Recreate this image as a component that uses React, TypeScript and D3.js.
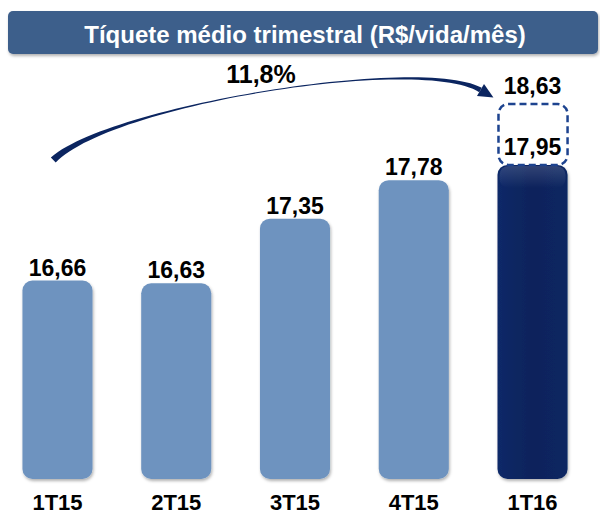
import React, { useRef, useEffect } from 'react';
import * as d3 from 'd3';

const quarters = ['1T15', '2T15', '3T15', '4T15', '1T16'];
const ticket = [16.66, 16.63, 17.35, 17.78, 17.95];
const ticketAdjusted = 18.63; // dashed extension on the last bar
const growthLabel = '11,8%';
const title = 'Tíquete médio trimestral (R$/vida/mês)';

const fmt = (v: number) => v.toFixed(2).replace('.', ',');

const App = () => {
  const ref = useRef<SVGSVGElement>(null);

  useEffect(() => {
    const width = 600;
    const height = 515;
    const font = '"Liberation Sans", Arial, sans-serif';

    const svg = d3.select(ref.current);
    svg.selectAll('*').remove();
    svg.attr('width', width).attr('height', height);

    const defs = svg.append('defs');

    // soft shadow under bars and banner
    const shadow = defs.append('filter').attr('id', 'shadow')
      .attr('x', '-20%').attr('y', '-20%').attr('width', '140%').attr('height', '140%');
    shadow.append('feDropShadow')
      .attr('dx', 1).attr('dy', 2).attr('stdDeviation', 1.5)
      .attr('flood-color', '#000').attr('flood-opacity', 0.3);

    // dark bar gradient
    const darkGrad = defs.append('linearGradient').attr('id', 'darkGrad')
      .attr('x1', 0).attr('x2', 1).attr('y1', 0).attr('y2', 0);
    darkGrad.append('stop').attr('offset', '0%').attr('stop-color', '#0d2968');
    darkGrad.append('stop').attr('offset', '50%').attr('stop-color', '#09235b');
    darkGrad.append('stop').attr('offset', '100%').attr('stop-color', '#0b2662');
    const topGlow = defs.append('linearGradient').attr('id', 'topGlow')
      .attr('x1', 0).attr('x2', 0).attr('y1', 0).attr('y2', 1);
    topGlow.append('stop').attr('offset', '0%').attr('stop-color', '#fff').attr('stop-opacity', 0.15);
    topGlow.append('stop').attr('offset', '100%').attr('stop-color', '#fff').attr('stop-opacity', 0);

    //scales
    const x = d3.scaleBand()
      .domain(quarters)
      .range([-1.9, 591.9])
      .paddingInner(0.41)
      .paddingOuter(0.205);

    const y = d3.scaleLinear()
      .domain([14.445, ticketAdjusted])
      .range([479, 104]);

    //title banner
    svg.append('rect')
      .attr('x', 8).attr('y', 11)
      .attr('width', 590).attr('height', 43)
      .attr('rx', 5)
      .attr('fill', '#3e5f8b')
      .attr('filter', 'url(#shadow)');
    svg.append('text')
      .attr('x', 305).attr('y', 43)
      .attr('text-anchor', 'middle')
      .style('font-family', font)
      .style('font-size', '24px')
      .style('font-weight', 'bold')
      .style('fill', '#fff')
      .text(title);

    const last = quarters.length - 1;
    const bw = x.bandwidth();

    //bars
    svg.selectAll('rect.bar')
      .data(ticket)
      .join('rect')
      .attr('class', 'bar')
      .attr('x', (d, i) => x(quarters[i])!)
      .attr('y', d => y(d))
      .attr('width', bw)
      .attr('height', d => y.range()[0] - y(d))
      .attr('rx', 10)
      .attr('fill', (d, i) => (i === last ? 'url(#darkGrad)' : '#6e93bf'))
      .attr('filter', 'url(#shadow)');

    // glossy top of the highlighted bar
    svg.append('rect')
      .attr('x', x(quarters[last])! + 2)
      .attr('y', y(ticket[last]) + 1)
      .attr('width', bw - 4)
      .attr('height', 22)
      .attr('rx', 9)
      .attr('fill', 'url(#topGlow)');

    // dashed box for the adjusted value
    svg.append('rect')
      .attr('x', x(quarters[last])! + 1)
      .attr('y', y(ticketAdjusted))
      .attr('width', bw - 1)
      .attr('height', y(ticket[last]) - y(ticketAdjusted))
      .attr('rx', 10)
      .attr('fill', 'none')
      .attr('stroke', '#1d438f')
      .attr('stroke-width', 2.5)
      .attr('stroke-dasharray', '7,4');

    //value labels
    svg.selectAll('text.value')
      .data(ticket)
      .join('text')
      .attr('class', 'value')
      .attr('x', (d, i) => x(quarters[i])! + bw / 2)
      .attr('y', (d, i) => (i === last ? y(d) - 10 : y(d) - 5))
      .attr('text-anchor', 'middle')
      .style('font-family', font)
      .style('font-size', '23px')
      .style('font-weight', 'bold')
      .style('fill', '#000')
      .text(d => fmt(d));

    svg.append('text')
      .attr('x', x(quarters[last])! + bw / 2)
      .attr('y', y(ticketAdjusted) - 10)
      .attr('text-anchor', 'middle')
      .style('font-family', font)
      .style('font-size', '23px')
      .style('font-weight', 'bold')
      .text(fmt(ticketAdjusted));

    //category labels
    svg.selectAll('text.cat')
      .data(quarters)
      .join('text')
      .attr('class', 'cat')
      .attr('x', d => x(d)! + bw / 2)
      .attr('y', 510)
      .attr('text-anchor', 'middle')
      .style('font-family', font)
      .style('font-size', '22px')
      .style('font-weight', 'bold')
      .text(d => d);

    //growth arrow: tapered cubic curve from first bar to last bar
    const p0 = [x(quarters[0])! + bw * 0.44, y(ticketAdjusted) + 56];
    const p3 = [x(quarters[last])! - 17, y(ticketAdjusted) - 14];
    const p1 = [p0[0] + 57, p0[1] - 55];
    const p2 = [p3[0] - 60, p3[1] - 35];
    const bez = (t: number, k: number) =>
      (1 - t) ** 3 * p0[k] + 3 * (1 - t) ** 2 * t * p1[k] + 3 * (1 - t) * t * t * p2[k] + t ** 3 * p3[k];
    const dBez = (t: number, k: number) =>
      3 * (1 - t) ** 2 * (p1[k] - p0[k]) + 6 * (1 - t) * t * (p2[k] - p1[k]) + 3 * t * t * (p3[k] - p2[k]);
    const widthAt = (t: number) =>
      t < 0.5 ? 1 + 6 * (1 - t / 0.5) ** 2 : 1 + 4 * ((t - 0.5) / 0.5) ** 2;

    const left: [number, number][] = [];
    const right: [number, number][] = [];
    for (let i = 0; i <= 60; i++) {
      const t = i / 60;
      const px = bez(t, 0), py = bez(t, 1);
      const dx = dBez(t, 0), dy = dBez(t, 1);
      const len = Math.hypot(dx, dy);
      const nx = -dy / len, ny = dx / len;
      const w = widthAt(t) / 2;
      left.push([px + nx * w, py + ny * w]);
      right.push([px - nx * w, py - ny * w]);
    }
    const poly = left.concat(right.reverse());
    svg.append('path')
      .attr('d', d3.line()(poly) + 'Z')
      .attr('fill', '#0b2560');

    // arrow head
    const ex = dBez(1, 0), ey = dBez(1, 1);
    const el = Math.hypot(ex, ey);
    const ux = ex / el, uy = ey / el;
    const tip = [p3[0] + ux * 15, p3[1] + uy * 15];
    const head: [number, number][] = [
      [p3[0] - uy * 7, p3[1] + ux * 7],
      [tip[0], tip[1]],
      [p3[0] + uy * 7, p3[1] - ux * 7],
    ];
    svg.append('path')
      .attr('d', d3.line()(head) + 'Z')
      .attr('fill', '#0b2560');

    svg.append('text')
      .attr('x', 261)
      .attr('y', 83)
      .attr('text-anchor', 'middle')
      .style('font-family', font)
      .style('font-size', '25px')
      .style('font-weight', 'bold')
      .text(growthLabel);
  }, []);

  return <svg ref={ref} style={{ position: 'absolute', left: 0, top: 0 }}></svg>;
};

export default App;
